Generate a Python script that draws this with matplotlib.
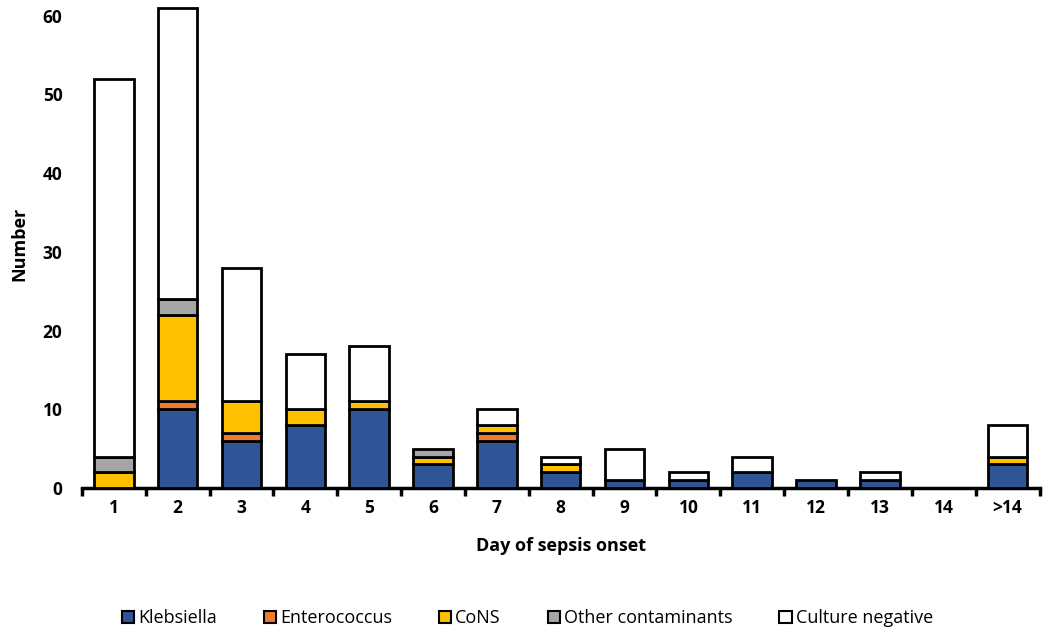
import matplotlib.pyplot as plt
import numpy as np

plt.rcParams["font.family"] = ["Open Sans", "DejaVu Sans"]

days = ["1", "2", "3", "4", "5", "6", "7", "8", "9", "10", "11", "12", "13", "14", ">14"]
klebsiella = [0, 10, 6, 8, 10, 3, 6, 2, 1, 1, 2, 1, 1, 0, 3]
enterococcus = [0, 1, 1, 0, 0, 0, 1, 0, 0, 0, 0, 0, 0, 0, 0]
cons = [2, 11, 4, 2, 1, 1, 1, 1, 0, 0, 0, 0, 0, 0, 1]
other = [2, 2, 0, 0, 0, 1, 0, 0, 0, 0, 0, 0, 0, 0, 0]
culture_neg = [48, 37, 17, 7, 7, 0, 2, 1, 4, 1, 2, 0, 1, 0, 4]

series = [
    ("Klebsiella", klebsiella, "#2F5597"),
    ("Enterococcus", enterococcus, "#ED7D31"),
    ("CoNS", cons, "#FFC000"),
    ("Other contaminants", other, "#A5A5A5"),
    ("Culture negative", culture_neg, "#FFFFFF"),
]

fig = plt.figure(figsize=(10.5, 6.36), dpi=100)
ax = fig.add_axes([0.078, 0.2327, 0.912, 0.7673])

x = np.arange(1, len(days) + 1)
bottom = np.zeros(len(days))
for name, vals, color in series:
    vals = np.array(vals, dtype=float)
    mask = vals > 0
    ax.bar(x[mask], vals[mask], width=0.62, bottom=bottom[mask], color=color,
           edgecolor="black", linewidth=2, clip_on=False, zorder=3)
    # legend proxy
    ax.bar([0], [0], color=color, edgecolor="black", linewidth=1.5, label=name)
    bottom += vals

ax.set_xlim(0.5, 15.5)
ax.set_ylim(0, 62)

for side in ["top", "right", "left"]:
    ax.spines[side].set_visible(False)
ax.spines["bottom"].set_linewidth(2.5)

ax.set_xticks(x)
ax.set_xticklabels(days, fontsize=12.5, fontweight="bold")
ax.tick_params(axis="x", which="major", length=0, pad=8)
ax.set_xticks(np.arange(0.5, 15.6, 1), minor=True)
ax.tick_params(axis="x", which="minor", length=6, width=2.5, direction="out")

ax.set_yticks(np.arange(0, 61, 10))
ax.set_yticklabels([str(v) for v in range(0, 61, 10)], fontsize=12.5, fontweight="bold")
ax.tick_params(axis="y", length=0, pad=14)

ax.set_xlabel("Day of sepsis onset", fontsize=13, fontweight="bold", labelpad=14)
ax.set_ylabel("Number", fontsize=13, fontweight="bold", labelpad=10)

ax.legend(loc="upper center", bbox_to_anchor=(0.465, -0.215), ncol=5, frameon=False,
          fontsize=13, handlelength=0.7, handleheight=0.7, handletextpad=0.2,
          columnspacing=2.6)

fig.savefig("out.png", dpi=100)
